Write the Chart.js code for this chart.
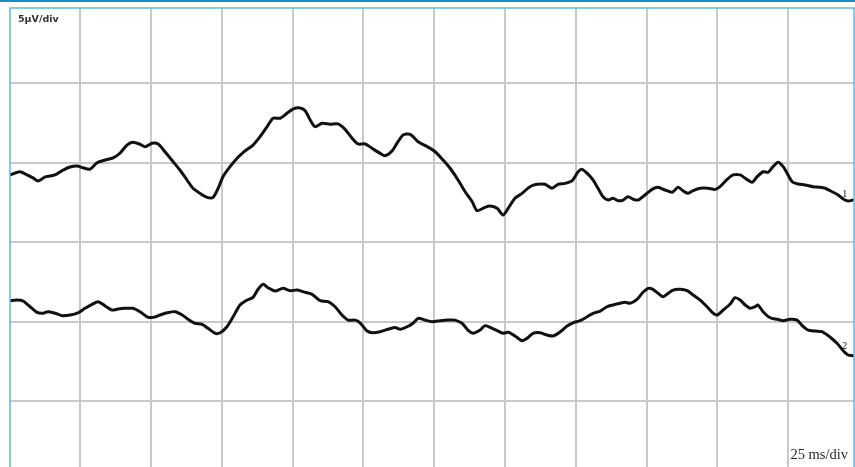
<!DOCTYPE html>
<html>
<head>
<meta charset="utf-8">
<title>Evoked potential traces</title>
<script src="https://cdn.jsdelivr.net/npm/chart.js@4/dist/chart.umd.min.js"></script>
<style>
    html, body { margin: 0; padding: 0; background: #ffffff; }
    canvas { display: block; }
</style>
</head>
<body>
<canvas id="traceChart" width="855" height="467"></canvas>
<script>
// Sweep settings
const msPerDiv = 25;
const uvPerDiv = 5;
const sweepStartMs = -24.8;
const sweepEndMs = 273.2;
const bottomUv = -14.16;
const topUv = 14.74;

const sensitivityLabel = "5\u00b5V/div";
const timebaseLabel = "25 ms/div";
const traceNames = ["1", "2"];

// Trace 1 (upper channel), time in ms / amplitude in µV
const trace1Ms = [-24.8, -21.3, -18.8, -16.7, -14.9, -12.4, -10.7, -8.9, -6.4, -3.6, -1.1, 1.0, 3.5, 5.9, 8.8,
    11.6, 14.1, 16.5, 18.6, 21.1, 22.9, 25.4, 27.5, 29.9, 32.8, 35.2, 37.7, 39.8, 42.3, 44.8, 46.9, 48.7,
    50.4, 52.9, 55.4, 58.2, 61.0, 63.5, 66.0, 68.1, 70.6, 73.0, 75.1, 77.6,
    79.4, 81.2, 82.9, 85.4, 88.2, 91.0, 93.5, 96.0, 98.1, 100.6, 103.0, 105.9, 107.6, 110.1, 112.2, 114.0,
    116.5, 119.3, 122.5, 125.3, 128.1, 130.6, 133.4, 135.9, 138.4, 140.1, 142.9, 144.7, 147.2, 149.3, 151.1,
    153.5, 156.0, 158.8, 161.3, 164.1, 166.6, 168.7, 171.2, 173.7, 175.8,
    177.2, 179.0, 181.1, 182.8, 184.6, 186.4, 188.1, 189.9, 191.7, 193.4, 195.2, 197.0, 199.4, 201.9, 204.0,
    206.5, 209.0, 211.1, 212.9, 214.6, 216.4, 218.9, 221.7, 224.2, 225.9, 228.4, 230.5, 233.0, 234.8, 237.2,
    239.0, 241.1, 242.9, 244.6, 246.4, 248.2, 249.6, 251.4, 253.5, 255.9, 258.8, 261.2, 263.0, 265.5, 267.6,
    269.4, 271.1, 272.9];
const trace1Uv = [4.23, 4.43, 4.23, 4.04, 3.85, 4.10, 4.16, 4.23, 4.50, 4.73, 4.79, 4.68, 4.60, 5.00, 5.17,
    5.30, 5.61, 6.11, 6.28, 6.16, 6.01, 6.22, 6.18, 5.69, 5.06, 4.54, 3.91, 3.39, 3.07, 2.82, 2.82, 3.39,
    4.12, 4.75, 5.28, 5.74, 6.11, 6.64, 7.27, 7.80, 7.80, 8.11, 8.38, 8.45,
    8.27, 7.69, 7.27, 7.48, 7.42, 7.44, 7.10, 6.54, 6.18, 6.18, 5.91, 5.59, 5.44, 5.74, 6.32, 6.74,
    6.79, 6.32, 6.01, 5.69, 5.17, 4.65, 3.91, 3.17, 2.54, 1.98, 2.19, 2.27, 2.13, 1.71, 2.13,
    2.76, 3.07, 3.49, 3.64, 3.64, 3.39, 3.64, 3.70, 3.87, 4.43,
    4.58, 4.33, 3.91, 3.39, 2.86, 2.65, 2.76, 2.61, 2.65, 2.86, 2.70, 2.65, 2.97, 3.32, 3.45,
    3.28, 3.14, 3.45, 3.22, 3.07, 3.24, 3.39, 3.39, 3.32, 3.49, 3.95, 4.23, 4.23, 4.02, 3.77,
    4.12, 4.43, 4.40, 4.75, 5.03, 4.75, 4.33, 3.80, 3.66, 3.60, 3.49, 3.45, 3.39, 3.17, 2.97,
    2.71, 2.59, 2.65];

// Trace 2 (lower channel)
const trace2Ms = [-24.8, -22.3, -20.2, -17.7, -15.3, -13.1, -11.4, -8.9, -6.4, -3.6, -0.8, 1.7, 4.2, 6.3, 8.8,
    11.2, 13.4, 15.8, 18.6, 21.1, 23.6, 25.7, 28.2, 30.7, 33.5, 36.0, 38.1, 40.5, 43.0, 45.1,
    47.6, 49.4, 51.8, 54.0, 56.4, 58.9, 61.0, 62.8, 64.6, 66.3, 68.8, 71.6, 74.1, 76.6,
    79.4, 81.9, 84.7, 87.5, 90.0, 92.4, 94.6, 97.0, 98.8, 101.3, 103.4, 105.9, 108.7, 111.2, 112.9,
    115.4, 117.5, 119.3, 121.8, 124.2, 127.1, 129.9, 132.3, 134.8, 136.9, 138.7, 141.2, 142.9, 144.7, 147.2,
    149.3, 151.1, 153.5, 156.0, 157.8, 159.9, 162.4, 164.8, 167.0,
    169.4, 171.9, 174.0, 176.5, 179.0, 181.1, 183.6, 186.0, 188.1, 190.6, 192.4, 194.1, 196.6, 198.7, 200.5,
    201.9, 204.0, 205.8, 207.6, 209.3, 211.8, 214.3, 216.4, 218.9, 221.3, 223.5, 224.9, 227.0, 229.5, 231.2,
    233.0, 234.8, 236.5, 238.3, 239.3, 241.1, 243.6, 246.1, 248.2, 250.6, 253.1, 254.9, 257.0, 259.5, 261.9,
    264.8, 267.2, 269.4, 271.1, 272.9];
const trace2Uv = [-3.69, -3.65, -3.71, -4.07, -4.42, -4.48, -4.38, -4.48, -4.63, -4.59, -4.45, -4.17, -3.92, -3.75, -4.02,
    -4.28, -4.21, -4.17, -4.17, -4.38, -4.70, -4.74, -4.59, -4.45, -4.38, -4.59, -4.86, -5.11, -5.18, -5.43,
    -5.74, -5.71, -5.33, -4.70, -3.96, -3.65, -3.48, -2.97, -2.66, -2.87, -3.08, -2.91, -3.06, -3.02,
    -3.16, -3.29, -3.69, -3.75, -4.07, -4.59, -4.91, -4.91, -5.08, -5.60, -5.71, -5.64, -5.49, -5.37, -5.49,
    -5.33, -5.11, -4.80, -4.91, -5.01, -4.95, -4.91, -4.91, -5.11, -5.54, -5.74, -5.54, -5.26, -5.37, -5.58,
    -5.74, -5.68, -5.91, -6.21, -6.06, -5.74, -5.71, -5.85, -5.91,
    -5.66, -5.28, -5.08, -4.95, -4.70, -4.48, -4.34, -4.07, -3.96, -3.85, -3.79, -3.85, -3.60, -3.16, -2.91,
    -2.95, -3.22, -3.44, -3.22, -3.02, -2.97, -3.06, -3.33, -3.65, -4.07, -4.48, -4.59, -4.28, -3.90, -3.50,
    -3.65, -3.96, -4.17, -4.07, -3.96, -4.38, -4.76, -4.86, -4.95, -4.86, -4.91, -5.26, -5.54, -5.60, -5.64,
    -5.99, -6.37, -6.84, -7.11, -7.15];

function toPoints(ms, uv) {
    return ms.map((t, i) => ({ x: t, y: uv[i] }));
}

// Frame, scale captions and channel numbers
const screenDecor = {
    id: "screenDecor",
    beforeDraw(chart) {
        const ctx = chart.ctx;
        ctx.save();
        ctx.fillStyle = "#ffffff";
        ctx.fillRect(0, 0, chart.width, chart.height);
        ctx.restore();
    },
    afterDatasetsDraw(chart) {
        const { ctx, chartArea: a } = chart;
        ctx.save();

        // channel numbers near the end of each trace
        ctx.font = "10px 'Liberation Serif'";
        ctx.fillStyle = "#111111";
        ctx.textAlign = "left";
        ctx.textBaseline = "alphabetic";
        chart.data.datasets.forEach((ds, i) => {
            const pts = chart.getDatasetMeta(i).data;
            const p = pts[pts.length - 3];
            ctx.fillText(traceNames[i], p.x - 1, p.y - 2);
        });

        // top strip and frame
        ctx.fillStyle = "#1a8cc4";
        ctx.fillRect(0, 0, chart.width, 2);
        ctx.strokeStyle = "#5cb8e0";
        ctx.lineWidth = 1.5;
        ctx.beginPath();
        ctx.moveTo(a.left, a.bottom);
        ctx.lineTo(a.left, a.top);
        ctx.lineTo(a.right, a.top);
        ctx.lineTo(a.right, a.bottom);
        ctx.stroke();

        // captions
        ctx.fillStyle = "#333333";
        ctx.font = "bold 9.5px 'DejaVu Sans'";
        ctx.fillText(sensitivityLabel, a.left + 8, a.top + 14);

        ctx.fillStyle = "#2a2a2a";
        ctx.font = "14.5px 'Liberation Serif'";
        ctx.textAlign = "right";
        ctx.fillText(timebaseLabel, a.right - 6, a.bottom - 8);
        ctx.restore();
    }
};

const traceStyle = {
    borderColor: "#111111",
    borderWidth: 3,
    pointRadius: 0,
    tension: 0.25,
    fill: false,
    borderJoinStyle: "round",
    borderCapStyle: "round"
};

new Chart(document.getElementById("traceChart"), {
    type: "line",
    data: {
        datasets: [
            { label: traceNames[0], data: toPoints(trace1Ms, trace1Uv), ...traceStyle },
            { label: traceNames[1], data: toPoints(trace2Ms, trace2Uv), ...traceStyle }
        ]
    },
    options: {
        responsive: false,
        animation: false,
        devicePixelRatio: 1,
        layout: { padding: { left: 10, top: 8, right: 1, bottom: 0 } },
        scales: {
            x: {
                type: "linear",
                min: sweepStartMs,
                max: sweepEndMs,
                ticks: { display: false, stepSize: msPerDiv, includeBounds: false },
                grid: { color: "#c9c9c9", lineWidth: 2, drawTicks: false },
                border: { display: false }
            },
            y: {
                type: "linear",
                min: bottomUv,
                max: topUv,
                ticks: { display: false, stepSize: uvPerDiv, includeBounds: false },
                grid: { color: "#c9c9c9", lineWidth: 2, drawTicks: false },
                border: { display: false }
            }
        },
        plugins: {
            legend: { display: false },
            tooltip: { enabled: false }
        }
    },
    plugins: [screenDecor]
});
</script>
</body>
</html>
